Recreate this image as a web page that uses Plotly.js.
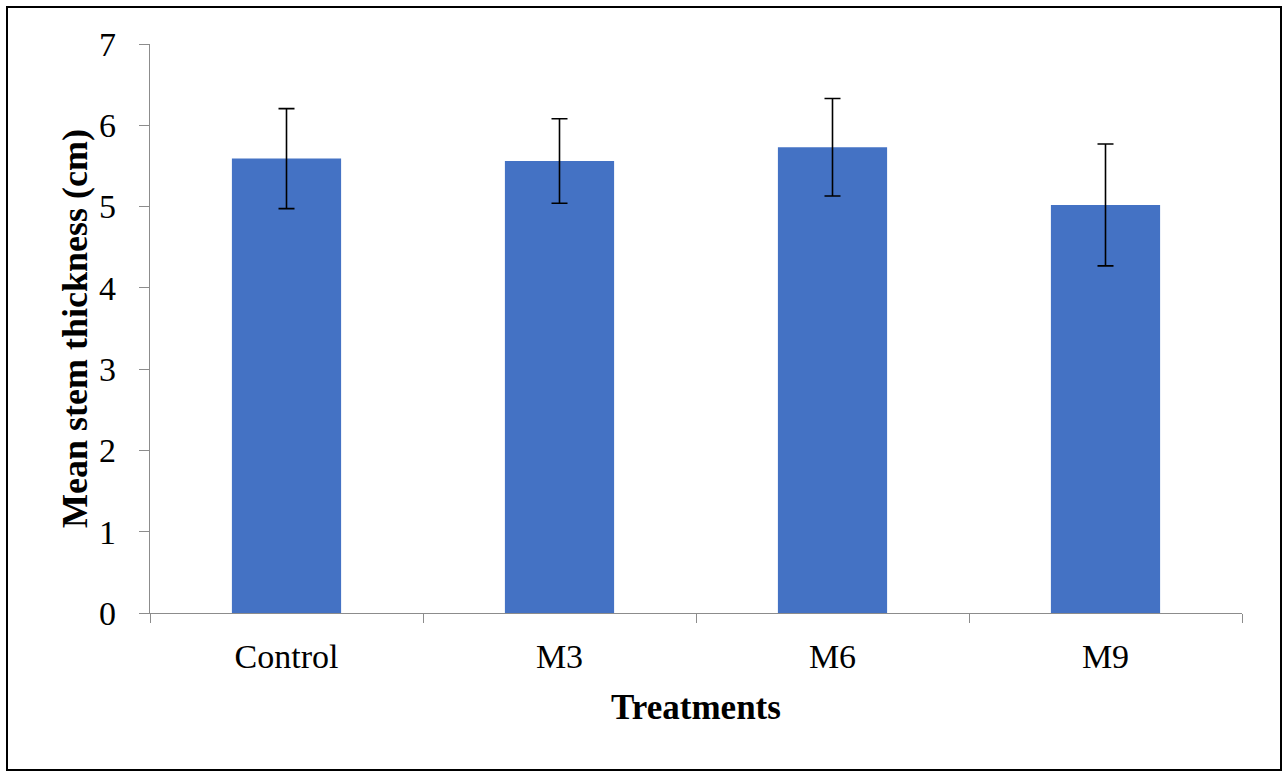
<!DOCTYPE html>
<html>
<head>
<meta charset="utf-8">
<script src="https://cdn.plot.ly/plotly-3.0.1.min.js"></script>
<style>
  html, body { margin: 0; padding: 0; background: #fff; }
  #wrap { position: relative; width: 1288px; height: 777px; }
  #chart { width: 1288px; height: 777px; }
  #frame { position: absolute; left: 6px; top: 6px; width: 1272px; height: 761px;
           border: 2px solid #000; pointer-events: none; }
</style>
</head>
<body>
<div id="wrap">
  <div id="chart"></div>
  <div id="frame"></div>
</div>
<script>
const categories = ["Control", "M3", "M6", "M9"];
const meanThickness = [5.59, 5.56, 5.73, 5.02];
const errorValues = [0.615, 0.52, 0.6, 0.75];
const yTickValues = [0, 1, 2, 3, 4, 5, 6, 7];
const yTickLabels = ["0", "1", "2", "3", "4", "5", "6", "7"];

const serif = "Liberation Serif";

const trace = {
  type: "bar",
  x: categories,
  y: meanThickness,
  marker: { color: "#4472C4" },
  error_y: {
    type: "data",
    array: errorValues,
    visible: true,
    color: "#000000",
    thickness: 1.6,
    width: 8
  },
  hoverinfo: "none"
};

const layout = {
  width: 1288,
  height: 777,
  margin: { l: 150, r: 46, t: 44, b: 164 },
  paper_bgcolor: "#ffffff",
  plot_bgcolor: "#ffffff",
  bargap: 0.6,
  showlegend: false,
  font: { family: serif, color: "#000000", size: 34 },
  xaxis: {
    type: "category",
    tickson: "boundaries",
    ticks: "outside",
    ticklen: 9,
    tickwidth: 1,
    tickcolor: "#8c8c8c",
    showline: true,
    linecolor: "#8c8c8c",
    linewidth: 1.3,
    showgrid: false,
    zeroline: false,
    tickfont: { family: serif, size: 34, color: "#000" },
    ticklabelstandoff: 13,
    title: {
      text: "<b>Treatments</b>",
      font: { family: serif, size: 35, color: "#000" },
      standoff: 20
    },
    automargin: false
  },
  yaxis: {
    range: [0, 7],
    tickvals: yTickValues,
    ticktext: yTickLabels,
    ticks: "outside",
    ticklen: 10,
    tickwidth: 1,
    tickcolor: "#8c8c8c",
    showline: true,
    linecolor: "#8c8c8c",
    linewidth: 1.3,
    showgrid: false,
    zeroline: false,
    tickfont: { family: serif, size: 34, color: "#000" },
    ticklabelstandoff: 16,
    title: {
      text: "<b>Mean stem thickness (cm)</b>",
      font: { family: serif, size: 36, color: "#000" },
      standoff: 0
    },
    automargin: false
  }
};

Plotly.newPlot("chart", [trace], layout, { staticPlot: true, displayModeBar: false });
</script>
</body>
</html>
